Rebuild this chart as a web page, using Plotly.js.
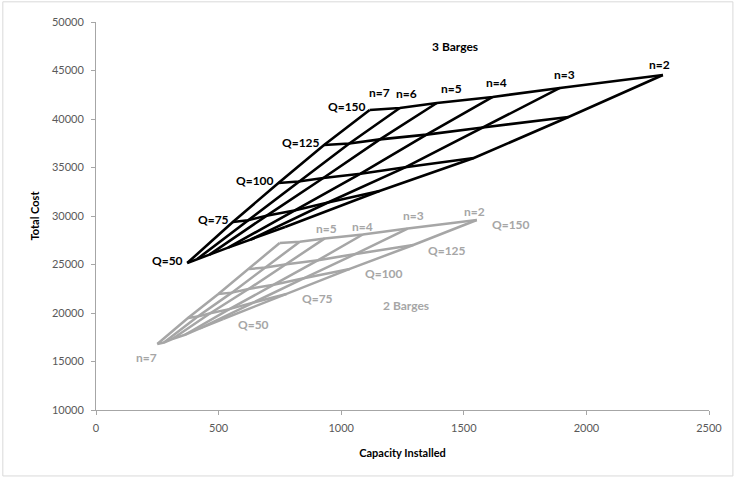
<!DOCTYPE html>
<html><head><meta charset="utf-8">
<script src="https://cdn.plot.ly/plotly-3.0.1.min.js"></script>
<style>html,body{margin:0;padding:0;background:#fff}#chart{width:735px;height:478px}</style>
</head><body><div id="chart"></div>
<script>
// ---- data ----
const nValues = [7, 6, 5, 4, 3, 2];
const qValues = [50, 75, 100, 125, 150];
const xTicks = [0, 500, 1000, 1500, 2000, 2500];
const yTicks = [10000, 15000, 20000, 25000, 30000, 35000, 40000, 45000, 50000];

// 3 barges: capacity installed / total cost for n = 7..2
const cap3_Q50  = [372, 413, 463, 539, 631, 771];
const cost3_Q50 = [25150, 25570, 26020, 26740, 27580, 28870];
const cap3_Q75  = [558, 620, 695, 809, 946, 1156];
const cost3_Q75 = [29380, 29570, 30020, 30570, 31390, 32580];
const cap3_Q100  = [744, 826, 927, 1079, 1261, 1541];
const cost3_Q100 = [33400, 33550, 33920, 34360, 35020, 35980];
const cap3_Q125  = [930, 1033, 1158, 1348, 1577, 1927];
const cost3_Q125 = [37320, 37480, 37900, 38390, 39130, 40200];
const cap3_Q150  = [1116, 1239, 1390, 1618, 1892, 2312];
const cost3_Q150 = [40930, 41130, 41650, 42270, 43200, 44540];

// 2 barges
const cap2_Q50  = [250, 277, 311, 363, 424, 518];
const cost2_Q50 = [16800, 16950, 17320, 17760, 18420, 19380];
const cap2_Q75  = [375, 415, 466, 544, 636, 777];
const cost2_Q75 = [19480, 19630, 19980, 20400, 21040, 21960];
const cap2_Q100  = [499, 554, 622, 725, 847, 1035];
const cost2_Q100 = [21960, 22100, 22470, 22920, 23580, 24540];
const cap2_Q125  = [624, 692, 777, 906, 1059, 1294];
const cost2_Q125 = [24540, 24680, 25030, 25450, 26090, 27010];
const cap2_Q150  = [749, 831, 933, 1088, 1271, 1553];
const cost2_Q150 = [27220, 27350, 27690, 28090, 28710, 29590];

// ---- build ----
const caps3 = [cap3_Q50, cap3_Q75, cap3_Q100, cap3_Q125, cap3_Q150];
const costs3 = [cost3_Q50, cost3_Q75, cost3_Q100, cost3_Q125, cost3_Q150];
const caps2 = [cap2_Q50, cap2_Q75, cap2_Q100, cap2_Q125, cap2_Q150];
const costs2 = [cost2_Q50, cost2_Q75, cost2_Q100, cost2_Q125, cost2_Q150];

function gridTrace(caps, costs, color, width) {
  const x = [], y = [];
  for (let r = 0; r < caps.length; r++) {
    for (let i = 0; i < nValues.length; i++) { x.push(caps[r][i]); y.push(costs[r][i]); }
    x.push(null); y.push(null);
  }
  for (let i = 0; i < nValues.length; i++) {
    for (let r = 0; r < caps.length; r++) { x.push(caps[r][i]); y.push(costs[r][i]); }
    x.push(null); y.push(null);
  }
  return {x, y, type: 'scatter', mode: 'lines', hoverinfo: 'skip', showlegend: false,
          connectgaps: false, line: {color, width}};
}

const BLACK = '#000000', GRAY = '#a6a6a6';
const FONT = 'Lato, "Liberation Sans", Arial, sans-serif';
const traces = [gridTrace(caps2, costs2, GRAY, 2.5), gridTrace(caps3, costs3, BLACK, 2.6)];

const ann = [];
// 3 barges: Q labels left of n=7 points
for (let r = 0; r < qValues.length; r++) {
  ann.push({x: caps3[r][0], y: costs3[r][0], text: 'Q=' + qValues[r], showarrow: false,
    xanchor: 'right', yanchor: 'middle', xshift: -2, yshift: 3,
    font: {family: FONT, size: 12, color: BLACK, weight: 'bold'}});
}
// 3 barges: n labels above Q=150 points
const n3ShiftX = [10, 7, 15, 4, 5, -3];
const n3ShiftY = [17, 15, 15, 14, 13, 10];
for (let i = 0; i < nValues.length; i++) {
  ann.push({x: cap3_Q150[i], y: cost3_Q150[i], text: 'n=' + nValues[i], showarrow: false,
    xanchor: 'center', yanchor: 'middle', xshift: n3ShiftX[i], yshift: n3ShiftY[i],
    font: {family: FONT, size: 12, color: BLACK, weight: 'bold'}});
}
// 2 barges: Q labels right of n=2 points
const last = nValues.length - 1;
for (let r = 0; r < qValues.length; r++) {
  ann.push({x: caps2[r][last], y: costs2[r][last], text: 'Q=' + qValues[r], showarrow: false,
    xanchor: 'left', yanchor: 'middle', xshift: 13, yshift: -5,
    font: {family: FONT, size: 12, color: GRAY, weight: 'bold'}});
}
// 2 barges: n labels
const n2Shown = [false, false, true, true, true, true];
const n2ShiftX = [0, 0, 2, 0, 6, -2];
const n2ShiftY = [0, 0, 10, 8, 13, 8];
for (let i = 0; i < nValues.length; i++) {
  if (!n2Shown[i]) continue;
  ann.push({x: cap2_Q150[i], y: cost2_Q150[i], text: 'n=' + nValues[i], showarrow: false,
    xanchor: 'center', yanchor: 'middle', xshift: n2ShiftX[i], yshift: n2ShiftY[i],
    font: {family: FONT, size: 12, color: GRAY, weight: 'bold'}});
}
ann.push({x: cap2_Q50[0], y: cost2_Q50[0], text: 'n=' + nValues[0], showarrow: false,
  xanchor: 'center', yanchor: 'middle', xshift: -11, yshift: -13,
  font: {family: FONT, size: 12, color: GRAY, weight: 'bold'}});
// group titles
ann.push({xref: 'paper', yref: 'paper', x: 0.585, y: 0.936, text: '3 Barges', showarrow: false,
  xanchor: 'center', yanchor: 'middle', font: {family: FONT, size: 12, color: BLACK, weight: 'bold'}});
ann.push({xref: 'paper', yref: 'paper', x: 0.5065, y: 0.2706, text: '2 Barges', showarrow: false,
  xanchor: 'center', yanchor: 'middle', font: {family: FONT, size: 12, color: GRAY, weight: 'bold'}});

const axisCommon = {showgrid: false, zeroline: false, showline: true, linecolor: '#a6a6a6', linewidth: 1,
  ticks: 'outside', ticklen: 4, tickcolor: '#a6a6a6', tickfont: {family: FONT, size: 11, color: '#595959'}};

const layout = {
  width: 735, height: 478,
  margin: {l: 96, r: 26, t: 22, b: 68},
  paper_bgcolor: '#ffffff', plot_bgcolor: '#ffffff',
  xaxis: Object.assign({}, axisCommon, {range: [0, 2500], tickvals: xTicks, ticktext: xTicks.map(String),
    ticklabelstandoff: 4,
    title: {text: 'Capacity Installed', standoff: 16, font: {family: FONT, size: 11, color: '#000', weight: 'bold'}}}),
  yaxis: Object.assign({}, axisCommon, {range: [10000, 50000], tickvals: yTicks, ticktext: yTicks.map(String),
    ticklabelstandoff: 5,
    title: {text: 'Total Cost', standoff: 10, font: {family: FONT, size: 11, color: '#000', weight: 'bold'}}}),
  annotations: ann,
  shapes: [{type: 'rect', xref: 'paper', yref: 'paper', x0: -0.152, x1: 1.039, y0: -0.170, y1: 1.052,
    line: {color: '#d9d9d9', width: 1}, layer: 'below'}]
};

Plotly.newPlot('chart', traces, layout, {displayModeBar: false, staticPlot: true});
</script></body></html>
